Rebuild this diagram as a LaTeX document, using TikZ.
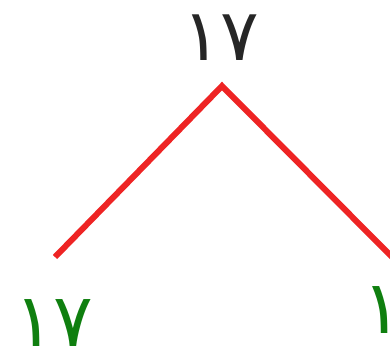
\documentclass[tikz,border=0pt]{standalone}
\usepackage{fontspec}
\newfontfamily\arabicfont[Script=Arabic]{DejaVu Sans}
\usetikzlibrary{positioning}
\definecolor{linered}{HTML}{EE2424}
\definecolor{penGreen}{HTML}{0F7F0F}
\definecolor{digitgray}{HTML}{262626}

\begin{document}
\begin{tikzpicture}[x=1pt, y=-1pt,
    topdigit/.style={text=digitgray, font=\arabicfont\fontsize{72}{72}\selectfont, inner sep=0pt, anchor=base},
    handdigit/.style={text=penGreen, font=\arabicfont\fontsize{74}{74}\selectfont, inner sep=0pt, anchor=base},
    branch/.style={linered, line width=6pt}]

% Frame
\useasboundingbox (0,0) rectangle (390,351);

% Top number
\node[topdigit] (root) at (221,60) {١٧};

% Branches
\coordinate (apex) at (222,86);
\coordinate (leftend) at (55,257);
\coordinate (rightend) at (394,259);
\draw[branch] (leftend) -- (apex) -- (rightend);

% Handwritten answers
\node[handdigit] (leftval) at (54,346) {١٧};
\node[handdigit] (rightval) at (382,333) {١};

\end{tikzpicture}
\end{document}
